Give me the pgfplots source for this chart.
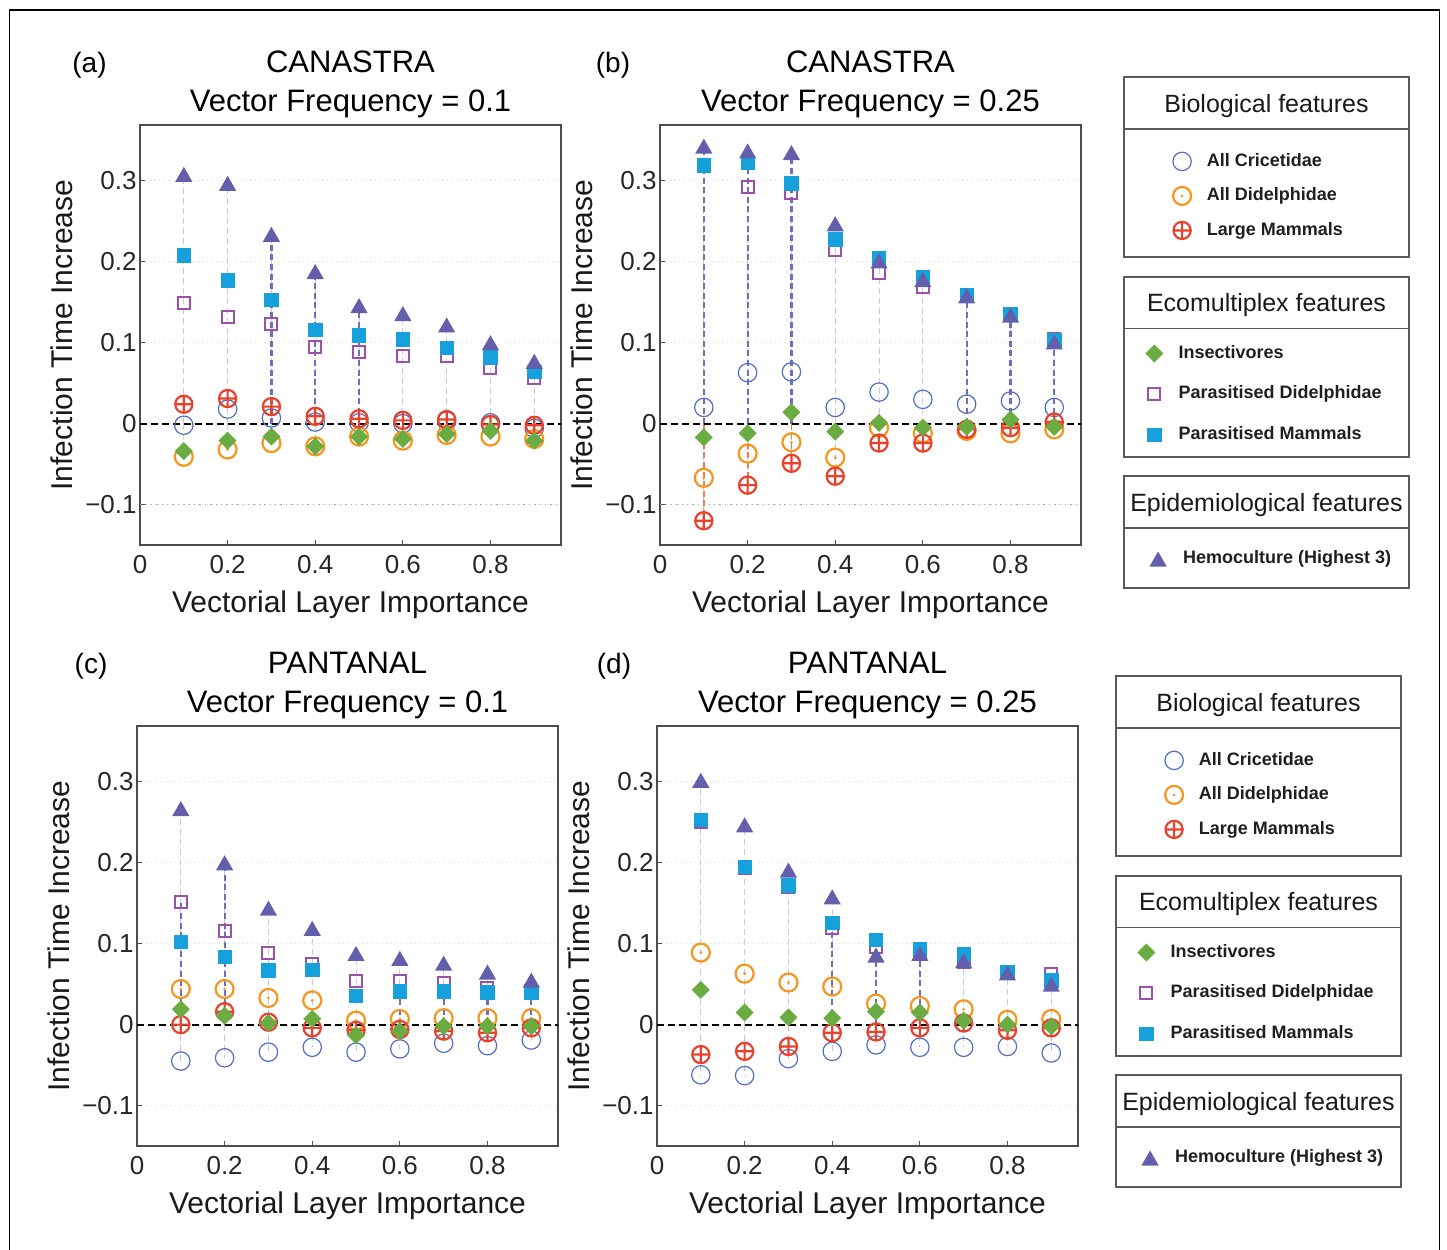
\documentclass[border=0pt]{standalone}
\usepackage{fontspec}
\setmainfont{Liberation Sans}
\usepackage{pgfplots}
\pgfplotsset{compat=1.18}
\usepackage{pgfplotstable}

\definecolor{cri}{RGB}{80,110,195}
\definecolor{did}{RGB}{245,150,30}
\definecolor{lm}{RGB}{232,65,44}
\definecolor{ins}{RGB}{106,172,66}
\definecolor{pdid}{RGB}{155,80,170}
\definecolor{pmam}{RGB}{22,160,220}
\definecolor{hemo}{RGB}{100,95,172}
\definecolor{hl}{RGB}{110,110,190}
\definecolor{hlo}{RGB}{238,125,85}
\definecolor{boxc}{RGB}{90,90,90}

\pgfdeclareplotmark{odot}{%
  \pgfpathcircle{\pgfpointorigin}{\pgfplotmarksize}\pgfusepathqstroke
  \pgfpathcircle{\pgfpointorigin}{0.17\pgfplotmarksize}\pgfusepathqfill}
\pgfdeclareplotmark{dia}{%
  \pgfpathmoveto{\pgfqpoint{0pt}{\pgfplotmarksize}}%
  \pgfpathlineto{\pgfqpoint{\pgfplotmarksize}{0pt}}%
  \pgfpathlineto{\pgfqpoint{0pt}{-\pgfplotmarksize}}%
  \pgfpathlineto{\pgfqpoint{-\pgfplotmarksize}{0pt}}%
  \pgfpathclose\pgfusepathqfill}
\pgfdeclareplotmark{tri}{%
  \pgfpathmoveto{\pgfqpoint{0pt}{0.875\pgfplotmarksize}}%
  \pgfpathlineto{\pgfqpoint{\pgfplotmarksize}{-0.875\pgfplotmarksize}}%
  \pgfpathlineto{\pgfqpoint{-\pgfplotmarksize}{-0.875\pgfplotmarksize}}%
  \pgfpathclose\pgfusepathqfill}

\pgfplotstableread{
x   cri    did    lm     ins    pdid  pmam  hemo
0.1 -0.002 -0.041 0.024  -0.034 0.149 0.208 0.308
0.2 0.018  -0.032 0.031  -0.021 0.132 0.177 0.297
0.3 0.007  -0.024 0.021  -0.016 0.123 0.153 0.234
0.4 0.002  -0.028 0.009  -0.028 0.095 0.116 0.188
0.5 0.001  -0.016 0.006  -0.016 0.088 0.109 0.146
0.6 0.000  -0.021 0.004  -0.019 0.084 0.104 0.136
0.7 0.003  -0.014 0.005  -0.013 0.083 0.094 0.122
0.8 0.001  -0.016 -0.001 -0.009 0.069 0.082 0.100
0.9 -0.006 -0.019 -0.002 -0.021 0.057 0.064 0.077
}\tabA
\pgfplotstableread{
x   cri   did    lm     ins    pdid  pmam  hemo
0.1 0.020 -0.067 -0.120 -0.017 0.319 0.319 0.343
0.2 0.063 -0.037 -0.076 -0.012 0.293 0.323 0.337
0.3 0.064 -0.023 -0.049 0.014  0.285 0.297 0.335
0.4 0.020 -0.042 -0.065 -0.010 0.215 0.228 0.247
0.5 0.039 -0.005 -0.024 0.001  0.186 0.205 0.201
0.6 0.030 -0.012 -0.024 -0.005 0.169 0.181 0.178
0.7 0.024 -0.009 -0.007 -0.004 0.159 0.159 0.158
0.8 0.028 -0.012 -0.005 0.005  0.135 0.136 0.134
0.9 0.020 -0.007 0.002  -0.004 0.104 0.103 0.101
}\tabB
\pgfplotstableread{
x   cri    did   lm     ins    pdid  pmam  hemo
0.1 -0.045 0.044 0.000  0.019  0.151 0.102 0.267
0.2 -0.041 0.044 0.016  0.011  0.116 0.084 0.200
0.3 -0.034 0.033 0.003  0.002  0.088 0.067 0.144
0.4 -0.028 0.030 -0.004 0.007  0.075 0.068 0.119
0.5 -0.034 0.005 -0.007 -0.013 0.054 0.036 0.088
0.6 -0.030 0.007 -0.006 -0.008 0.054 0.041 0.082
0.7 -0.023 0.008 -0.008 -0.002 0.052 0.041 0.076
0.8 -0.026 0.008 -0.010 -0.002 0.045 0.040 0.065
0.9 -0.019 0.008 -0.004 -0.002 0.041 0.040 0.055
}\tabC
\pgfplotstableread{
x   cri    did   lm     ins    pdid  pmam  hemo
0.1 -0.062 0.089 -0.037 0.043  0.250 0.253 0.302
0.2 -0.063 0.063 -0.033 0.015  0.193 0.195 0.247
0.3 -0.042 0.052 -0.027 0.009  0.170 0.172 0.191
0.4 -0.033 0.047 -0.010 0.008  0.120 0.126 0.158
0.5 -0.025 0.026 -0.009 0.016  0.096 0.105 0.086
0.6 -0.028 0.023 -0.004 0.015  0.088 0.093 0.088
0.7 -0.028 0.019 0.002  0.005  0.077 0.087 0.079
0.8 -0.027 0.006 -0.007 0.000  0.065 0.065 0.064
0.9 -0.035 0.007 -0.004 -0.002 0.062 0.055 0.050
}\tabD
% darker dashed drop lines
\pgfplotstableread{
x h
0.3 0.234
0.4 0.188
0.5 0.146
}\hlA
\pgfplotstableread{
x h
0.1 0.343
0.2 0.337
0.3 0.335
0.7 0.158
0.8 0.134
0.9 0.101
}\hlB
\pgfplotstableread{
x h
0.1 -0.120
0.2 -0.076
0.3 -0.049
}\hlBo
\pgfplotstableread{
x h
0.1 0.151
0.2 0.200
0.6 0.041
0.7 0.041
0.8 0.040
0.9 0.040
}\hlC
\pgfplotstableread{
x h
0.4 0.126
0.5 0.086
0.6 0.088
}\hlD

\pgfplotsset{
  mcri/.style={mark=o, mark size=4.6pt, draw=cri, mark options={solid, line width=0.6pt, draw=cri}},
  mdid/.style={mark=odot, mark size=4.5pt, draw=did, mark options={solid, line width=1.1pt, draw=did, fill=did}},
  mlm/.style={mark=oplus, mark size=4.3pt, draw=lm, mark options={solid, line width=1.1pt, draw=lm, fill=none}},
  mins/.style={mark=dia, mark size=4.5pt, draw=ins, mark options={solid, fill=ins}},
  mpdid/.style={mark=square, mark size=3.0pt, draw=pdid, mark options={solid, line width=1pt, draw=pdid, fill=none}},
  mpmam/.style={mark=square*, mark size=3.35pt, draw=pmam, mark options={solid, line width=0.3pt, draw=pmam, fill=pmam}},
  mhemo/.style={mark=tri, mark size=4.3pt, draw=hemo, mark options={solid, fill=hemo}},
  comb/.style={ycomb, densely dashed, line width=0.5pt},
  panel/.style={
    scale only axis, width=210.5pt, height=210pt, anchor=north west,
    xmin=0, xmax=0.961, ymin=-0.15, ymax=0.369,
    xtick={0,0.2,0.4,0.6,0.8}, xticklabels={0,0.2,0.4,0.6,0.8},
    ytick={-0.1,0,0.1,0.2,0.3}, yticklabels={−0.1,0,0.1,0.2,0.3},
    tick align=inside, xtick pos=bottom, ytick pos=left, major tick length=2.5pt,
    axis line style={black!70, line width=0.7pt},
    tick style={black!70, line width=0.6pt},
    ymajorgrids, grid style={black!15, dotted, line width=0.6pt},
    xlabel={Vectorial Layer Importance}, ylabel={Infection Time Increase},
    tick label style={font=\fontsize{13}{15}\selectfont, text=black!85},
    every axis x label/.style={at={(axis description cs:0.5,0)}, anchor=base, yshift=-33.5pt,
      font=\fontsize{15}{18}\selectfont, text=black!90},
    every axis y label/.style={at={(axis description cs:0,0.5)}, xshift=-33.85pt, rotate=90, anchor=base,
      font=\fontsize{15}{18}\selectfont, text=black!90},
    xticklabel style={anchor=base, inner sep=0pt, yshift=-14pt},
    yticklabel style={anchor=east, inner sep=0pt, xshift=-1.5pt},
  },
  mylegimg/.style={legend image code/.code={\path[draw=none, fill=none] (-6pt,-4pt) rectangle (6pt,4pt);\draw[##1] plot coordinates {(0pt,0pt)};}},
  legaxis/.style={hide axis, scale only axis, width=5pt, height=5pt, anchor=north west,
    xmin=0, xmax=1, ymin=0, ymax=1, mylegimg, legend cell align=left,
    legend style={at={(0,1)}, anchor=north west, draw=none, fill=none, inner sep=0pt,
      nodes={inner sep=0pt, text height=6.6pt, text depth=1.9pt, font=\fontsize{9}{11}\selectfont\bfseries, text=black!88}}},
}

\newcommand\drawcombs[1]{%
  \addplot[comb, draw=cri!40] table[x=x,y=cri]{#1};
  \addplot[comb, draw=did!45] table[x=x,y=did]{#1};
  \addplot[comb, draw=lm!40] table[x=x,y=lm]{#1};
  \addplot[comb, draw=ins!40] table[x=x,y=ins]{#1};
  \addplot[comb, draw=pdid!35] table[x=x,y=pdid]{#1};
  \addplot[comb, draw=pmam!35] table[x=x,y=pmam]{#1};
  \addplot[comb, draw=hemo!35] table[x=x,y=hemo]{#1};
}
\newcommand\drawhighl[1]{%
  \addplot[ycomb, draw=hl, line width=1.1pt, dash pattern=on 3pt off 1.8pt] table[x=x,y=h]{#1};
}
\newcommand\drawmarks[1]{%
  \addplot[only marks, mcri] table[x=x,y=cri]{#1};
  \addplot[only marks, mdid] table[x=x,y=did]{#1};
  \addplot[only marks, mlm] table[x=x,y=lm]{#1};
  \addplot[only marks, mins] table[x=x,y=ins]{#1};
  \addplot[only marks, mpdid] table[x=x,y=pdid]{#1};
  \addplot[only marks, mpmam] table[x=x,y=pmam]{#1};
  \addplot[only marks, mhemo] table[x=x,y=hemo]{#1};
  \addplot[black, line width=0.9pt, dash pattern=on 3.5pt off 2pt] coordinates {(0,0) (0.961,0)};
}

\newcommand\leggroup[2]{% #1 = dx, #2 = dy
  \draw[boxc, line width=0.6pt] ({562pt+(#1)},{-38.5pt+(#2)}) rectangle ({704.5pt+(#1)},{-128.5pt+(#2)});
  \draw[boxc, line width=0.6pt] ({562pt+(#1)},{-64.5pt+(#2)}) -- ({704.5pt+(#1)},{-64.5pt+(#2)});
  \node[anchor=base, font=\fontsize{12.5}{15}\selectfont, text=black!90] at ({633.25pt+(#1)},{-56.35pt+(#2)}) {Biological features};
  \draw[boxc, line width=0.6pt] ({562pt+(#1)},{-138.5pt+(#2)}) rectangle ({704.5pt+(#1)},{-228.5pt+(#2)});
  \draw[boxc, line width=0.6pt] ({562pt+(#1)},{-164.15pt+(#2)}) -- ({704.5pt+(#1)},{-164.15pt+(#2)});
  \node[anchor=base, font=\fontsize{12.5}{15}\selectfont, text=black!90] at ({633.25pt+(#1)},{-155.85pt+(#2)}) {Ecomultiplex features};
  \draw[boxc, line width=0.6pt] ({562pt+(#1)},{-238pt+(#2)}) rectangle ({704.5pt+(#1)},{-294pt+(#2)});
  \draw[boxc, line width=0.6pt] ({562pt+(#1)},{-264pt+(#2)}) -- ({704.5pt+(#1)},{-264pt+(#2)});
  \node[anchor=base, font=\fontsize{12.5}{15}\selectfont, text=black!90] at ({633.25pt+(#1)},{-255.85pt+(#2)}) {Epidemiological features};
  \begin{axis}[legaxis, at={({584.85pt+(#1)},{-75.9pt+(#2)})},
      legend style={row sep={17.25pt,between origins}, column sep={12.15pt,between origins}}]
    \addlegendimage{mcri}\addlegendentry{All Cricetidae}
    \addlegendimage{mdid}\addlegendentry{All Didelphidae}
    \addlegendimage{mlm}\addlegendentry{Large Mammals}
  \end{axis}
  \begin{axis}[legaxis, at={({571pt+(#1)},{-172.05pt+(#2)})},
      legend style={row sep={20.25pt,between origins}, column sep={11.85pt,between origins}}]
    \addlegendimage{mins}\addlegendentry{Insectivores}
    \addlegendimage{mpdid}\addlegendentry{Parasitised Didelphidae}
    \addlegendimage{mpmam}\addlegendentry{Parasitised Mammals}
  \end{axis}
  \begin{axis}[legaxis, at={({572.85pt+(#1)},{-275.05pt+(#2)})},
      legend style={column sep={12.3pt,between origins}}]
    \addlegendimage{mhemo}\addlegendentry{Hemoculture (Highest 3)}
  \end{axis}
}

\begin{document}
\begin{tikzpicture}
\useasboundingbox (0pt,0pt) rectangle (723.5pt,-624.5pt);
\draw[black, line width=0.8pt] (4.75pt,-640pt) -- (4.75pt,-5pt) -- (719.75pt,-5pt) -- (719.75pt,-640pt);

% (a)
\begin{axis}[panel, at={(70pt,-62.5pt)}]
  \addplot[gray!70, dotted, line width=0.7pt] coordinates {(0,-0.1) (0.961,-0.1)};
  \drawcombs{\tabA}
  \drawhighl{\hlA}
  \drawmarks{\tabA}
\end{axis}
% (b)
\begin{axis}[panel, at={(330pt,-62.5pt)}]
  \addplot[gray!70, dotted, line width=0.7pt] coordinates {(0,-0.1) (0.961,-0.1)};
  \drawcombs{\tabB}
  \drawhighl{\hlB}
  \addplot[ycomb, draw=hlo, line width=0.9pt, dash pattern=on 3pt off 1.8pt] table[x=x,y=h]{\hlBo};
  \drawmarks{\tabB}
\end{axis}
% (c)
\begin{axis}[panel, at={(68.5pt,-363pt)}]
  \drawcombs{\tabC}
  \drawhighl{\hlC}
  \drawmarks{\tabC}
\end{axis}
% (d)
\begin{axis}[panel, at={(328.5pt,-363pt)}]
  \drawcombs{\tabD}
  \drawhighl{\hlD}
  \drawmarks{\tabD}
\end{axis}

\node[anchor=base, font=\fontsize{14}{16}\selectfont] at (44.75pt,-36.35pt) {(a)};
\node[anchor=base, font=\fontsize{15.5}{18}\selectfont] at (175.25pt,-36.2pt) {CANASTRA};
\node[anchor=base, font=\fontsize{15.5}{18}\selectfont] at (175.25pt,-55.5pt) {Vector Frequency = 0.1};
\node[anchor=base, font=\fontsize{14}{16}\selectfont] at (306.5pt,-36.35pt) {(b)};
\node[anchor=base, font=\fontsize{15.5}{18}\selectfont] at (435.25pt,-36.2pt) {CANASTRA};
\node[anchor=base, font=\fontsize{15.5}{18}\selectfont] at (435.25pt,-55.5pt) {Vector Frequency = 0.25};
\node[anchor=base, font=\fontsize{14}{16}\selectfont] at (45.5pt,-336.85pt) {(c)};
\node[anchor=base, font=\fontsize{15.5}{18}\selectfont] at (173.75pt,-336.7pt) {PANTANAL};
\node[anchor=base, font=\fontsize{15.5}{18}\selectfont] at (173.75pt,-356pt) {Vector Frequency = 0.1};
\node[anchor=base, font=\fontsize{14}{16}\selectfont] at (307pt,-336.85pt) {(d)};
\node[anchor=base, font=\fontsize{15.5}{18}\selectfont] at (433.75pt,-336.7pt) {PANTANAL};
\node[anchor=base, font=\fontsize{15.5}{18}\selectfont] at (433.75pt,-356pt) {Vector Frequency = 0.25};

\leggroup{0pt}{0pt}
\leggroup{-4pt}{-299.5pt}
\end{tikzpicture}
\end{document}
